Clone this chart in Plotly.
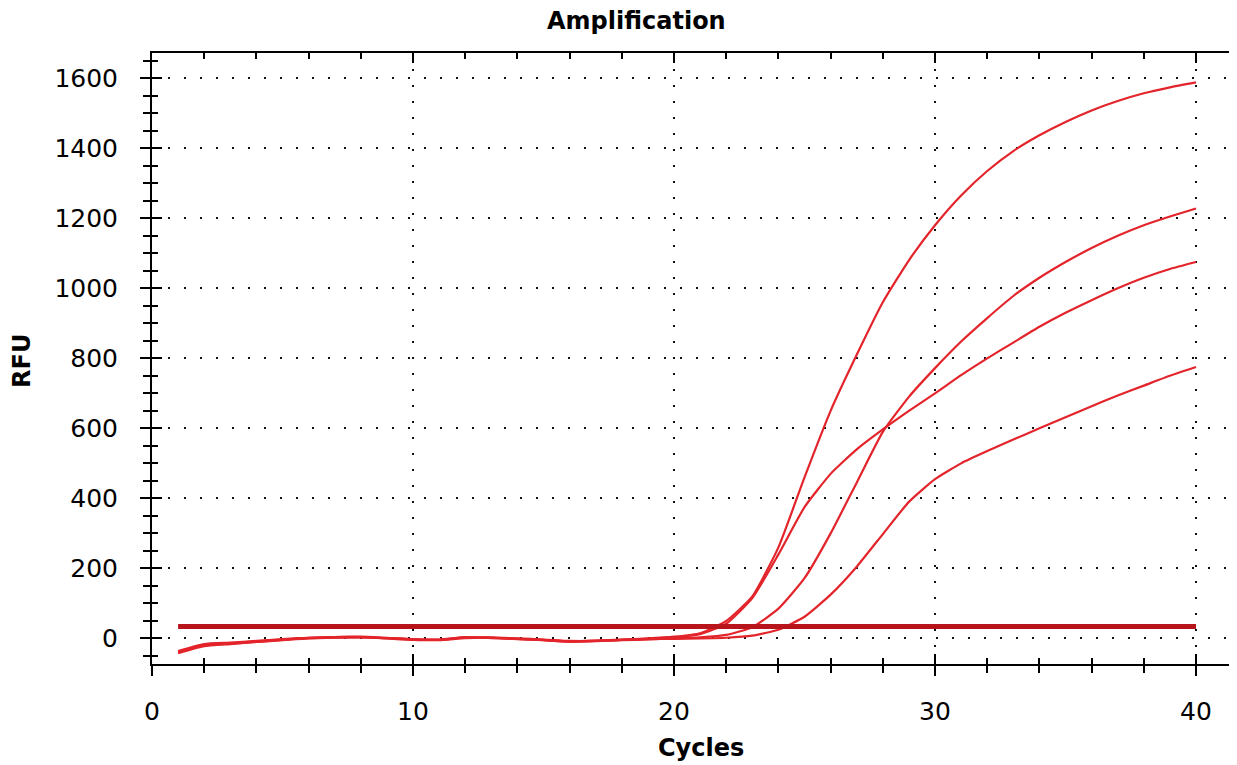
import plotly.graph_objects as go

cycles = [1, 2, 3, 4, 5, 6, 7, 8, 9, 10, 11, 12, 13, 14, 15, 16, 17, 18, 19, 20,
          21, 22, 23, 24, 25, 26, 27, 28, 29, 30, 31, 32, 33, 34, 35, 36, 37, 38, 39, 40]

sample_1 = [-38, -20, -15, -10, -4, 1, 3, 4, 2, -2, -3, 4, 2, -1, -4, -8, -6, -3, 0, 5,
            15, 50, 120, 260, 460, 650, 810, 960, 1080, 1180, 1265, 1335, 1392, 1437, 1475, 1508, 1535, 1557, 1574, 1588]
sample_2 = [-40, -18, -14, -8, -3, 2, 4, 5, 1, -3, -4, 2, 3, 0, -3, -7, -7, -4, -1, 3,
            12, 42, 115, 240, 375, 470, 540, 597, 650, 700, 752, 800, 845, 890, 930, 966, 1000, 1030, 1055, 1075]
sample_3 = [-36, -16, -12, -7, -2, 2, 4, 4, 0, -4, -5, 1, 2, -1, -5, -9, -8, -5, -3, 0,
            3, 10, 32, 85, 172, 300, 445, 590, 690, 772, 848, 915, 978, 1030, 1075, 1115, 1150, 1180, 1205, 1228]
sample_4 = [-42, -22, -16, -10, -5, 0, 2, 3, 1, -3, -4, 3, 1, -2, -5, -9, -7, -4, -2, -1,
            0, 2, 8, 25, 62, 125, 205, 298, 390, 455, 500, 535, 568, 600, 632, 663, 694, 722, 750, 775]

threshold_cycles = [1, 40]
threshold_rfu = [34, 34]

x_ticks = [0, 10, 20, 30, 40]
y_ticks = [0, 200, 400, 600, 800, 1000, 1200, 1400, 1600]

x_range = [0, 41.57]
y_range = [-73, 1672]

curve_color = "#e3242b"
thr_color = "#b8141c"
font_family = "DejaVu Sans"

fig = go.Figure()
for s in [sample_1, sample_2, sample_3, sample_4]:
    fig.add_trace(go.Scatter(x=cycles, y=s, mode="lines",
                             line=dict(color=curve_color, width=2.2, shape="spline", smoothing=0.5),
                             showlegend=False, hoverinfo="x+y"))

fig.add_trace(go.Scatter(x=threshold_cycles, y=threshold_rfu, mode="lines",
                         line=dict(color=thr_color, width=5),
                         xaxis="x2", yaxis="y2", showlegend=False))

grid_dash = "2px,14px"

common_x = dict(range=x_range, tickvals=x_ticks, linecolor="black", linewidth=2,
                zeroline=False, tickcolor="black", tickwidth=2, automargin=False)
common_y = dict(range=y_range, tickvals=y_ticks, linecolor="black", linewidth=2,
                zeroline=False, tickcolor="black", tickwidth=2, automargin=False)

# page body has an 8px margin: the figure is sized so that the plot area lands where the reference has it
fig.update_layout(
    width=1229, height=757,
    margin=dict(l=144, r=0, t=45, b=101, autoexpand=False),
    paper_bgcolor="white", plot_bgcolor="white",
    font=dict(family=font_family, color="black", size=25),
    xaxis=dict(**common_x, showline=True, ticks="outside", ticklen=10, mirror=True,
               ticktext=[str(v) for v in x_ticks], ticklabelstandoff=14,
               showgrid=True, gridcolor="#111111", gridwidth=2, griddash=grid_dash,
               minor=dict(dtick=2, ticks="outside", ticklen=7, tickwidth=2, tickcolor="black", showgrid=False),
               tickfont=dict(size=25)),
    yaxis=dict(**common_y, showline=True, side="left", ticks="outside", ticklen=10, ticklabelstandoff=17,
               showgrid=True, gridcolor="#111111", gridwidth=2, griddash=grid_dash,
               minor=dict(dtick=50, ticks="outside", ticklen=7, tickwidth=2, tickcolor="black", showgrid=False),
               tickfont=dict(size=25)),
    xaxis2=dict(**common_x, showline=False, overlaying="x", anchor="y2", side="bottom",
                ticks="inside", ticklen=10, mirror="ticks",
                showticklabels=False, showgrid=False,
                minor=dict(dtick=2, ticks="inside", ticklen=6, tickwidth=2, tickcolor="black", showgrid=False)),
    yaxis2=dict(**common_y, showline=False, overlaying="y", anchor="x2", side="left",
                ticks="inside", ticklen=10,
                showticklabels=False, showgrid=False,
                minor=dict(dtick=50, ticks="inside", ticklen=6, tickwidth=2, tickcolor="black", showgrid=False)),
    annotations=[
        dict(text="<b>Amplification</b>", xref="paper", yref="paper", x=0.447, y=1.052,
             xanchor="center", yanchor="middle", showarrow=False, font=dict(size=24, family=font_family)),
        dict(text="<b>Cycles</b>", xref="paper", yref="paper", x=0.506, y=-0.1375,
             xanchor="center", yanchor="middle", showarrow=False, font=dict(size=24, family=font_family)),
        dict(text="<b>RFU</b>", xref="paper", yref="paper", x=-0.1198, y=0.496, textangle=-90,
             xanchor="center", yanchor="middle", showarrow=False, font=dict(size=24, family=font_family)),
    ],
)

fig.write_html("out.html")
